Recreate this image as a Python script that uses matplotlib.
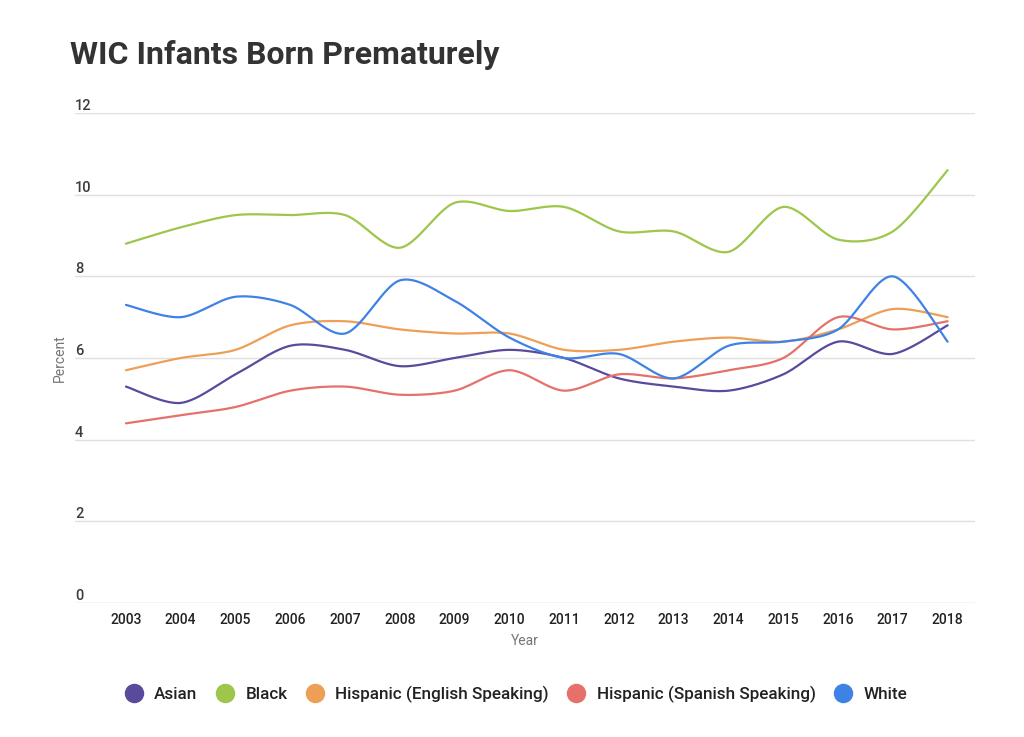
import numpy as np
import matplotlib.pyplot as plt
from matplotlib.lines import Line2D

# ---- data ----
years = list(range(2003, 2019))
asian = [5.3, 4.9, 5.6, 6.3, 6.2, 5.8, 6.0, 6.2, 6.0, 5.5, 5.3, 5.2, 5.6, 6.4, 6.1, 6.8]
black = [8.8, 9.2, 9.5, 9.5, 9.5, 8.7, 9.8, 9.6, 9.7, 9.1, 9.1, 8.6, 9.7, 8.9, 9.1, 10.6]
hisp_en = [5.7, 6.0, 6.2, 6.8, 6.9, 6.7, 6.6, 6.6, 6.2, 6.2, 6.4, 6.5, 6.4, 6.7, 7.2, 7.0]
hisp_es = [4.4, 4.6, 4.8, 5.2, 5.3, 5.1, 5.2, 5.7, 5.2, 5.6, 5.5, 5.7, 6.0, 7.0, 6.7, 6.9]
white = [7.3, 7.0, 7.5, 7.3, 6.6, 7.9, 7.4, 6.5, 6.0, 6.1, 5.5, 6.3, 6.4, 6.7, 8.0, 6.4]

series = [
    ("Asian", asian, "#5b4a9c"),
    ("Black", black, "#9dc64a"),
    ("Hispanic (English Speaking)", hisp_en, "#ee9f55"),
    ("Hispanic (Spanish Speaking)", hisp_es, "#e5716a"),
    ("White", white, "#3f82e6"),
]
y_ticks = [0, 2, 4, 6, 8, 10, 12]


def smooth(x, y, k=0.15, n=30):
    """curva suave tipo Catmull-Rom (bezier cubica por tramo)"""
    x = np.asarray(x, float)
    y = np.asarray(y, float)
    px = np.concatenate([[x[0]], x, [x[-1]]])
    py = np.concatenate([[y[0]], y, [y[-1]]])
    t = np.linspace(0, 1, n)
    xs, ys = [], []
    for i in range(1, len(px) - 2):
        p0 = np.array([px[i], py[i]])
        p3 = np.array([px[i + 1], py[i + 1]])
        c1 = p0 + (np.array([px[i + 1], py[i + 1]]) - np.array([px[i - 1], py[i - 1]])) * k
        c2 = p3 - (np.array([px[i + 2], py[i + 2]]) - np.array([px[i], py[i]])) * k
        b = ((1 - t) ** 3)[:, None] * p0 + (3 * (1 - t) ** 2 * t)[:, None] * c1 \
            + (3 * (1 - t) * t ** 2)[:, None] * c2 + (t ** 3)[:, None] * p3
        xs.append(b[:, 0])
        ys.append(b[:, 1])
    return np.concatenate(xs), np.concatenate(ys)


plt.rcParams['font.family'] = ['Roboto', 'DejaVu Sans']

fig = plt.figure(figsize=(10.24, 7.37), dpi=100)
ax = fig.add_axes([75 / 1024, 1 - 603 / 737, 900 / 1024, 490 / 737])

for name, vals, col in series:
    sx, sy = smooth(years, vals)
    ax.plot(sx, sy, color=col, lw=1.6, solid_capstyle='round', zorder=3)

ax.set_xlim(2002.07, 2018.5)
ax.set_ylim(0, 12)

# gridlines + labels above them (estilo Google Charts)
for v in y_ticks:
    ax.axhline(v, color="#cccccc" if v == 0 else "#e0e0e0", lw=1, zorder=1)
    ax.text(0.0, v, str(v), transform=ax.get_yaxis_transform(), ha="left", va="bottom",
            fontsize=10.5, color="#3c3c3c", fontweight="medium")

ax.set_yticks([])
ax.set_xticks(years)
ax.set_xticklabels([str(y) for y in years], fontsize=10, color="#222222", fontweight="medium")
ax.tick_params(axis="x", length=0, pad=7)
for s in ax.spines.values():
    s.set_visible(False)

ax.set_xlabel("Year", fontsize=10, color="#757575", labelpad=5)
fig.text(60 / 1024, 1 - 358 / 737, "Percent", rotation=90, ha="center", va="center",
         fontsize=10, color="#757575")

fig.text(70 / 1024, 1 - 55 / 737, "WIC Infants Born Prematurely", fontsize=23,
         fontweight="bold", color="#333333", ha="left", va="center")

handles = [Line2D([], [], marker="o", ls="", markersize=13, color=c) for _, _, c in series]
fig.legend(handles, [n for n, _, _ in series], loc="center", bbox_to_anchor=(0.5, 1 - 694 / 737),
           ncol=5, frameon=False, handletextpad=0.2, columnspacing=0.6,
           labelcolor="#222222", prop={"weight": "medium", "size": 12.3})

fig.savefig("out.png", dpi=100)
